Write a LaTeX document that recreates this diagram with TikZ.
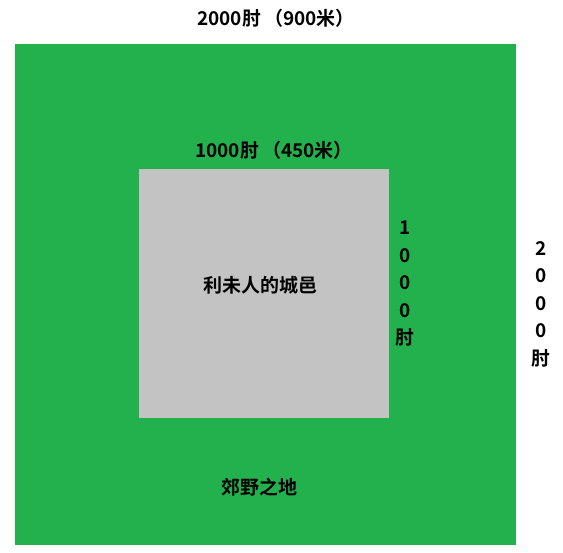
\documentclass[tikz,border=0pt]{standalone}
\usepackage{fontspec}
\newfontfamily\cjk{Noto Sans CJK SC}[BoldFont={Noto Sans CJK SC Bold}]
\definecolor{fieldgreen}{RGB}{34,177,76}
\definecolor{citygray}{RGB}{195,195,195}
\usetikzlibrary{positioning}

\begin{document}
\begin{tikzpicture}[x=1pt,y=-1pt,font=\cjk\bfseries\fontsize{19}{27.5}\selectfont,
 area/.style={inner sep=0pt,anchor=north west},
 lbl/.style={inner sep=0pt,align=center}]
 \useasboundingbox (0,0) rectangle (563,553);
 \node[area,fill=fieldgreen,minimum width=501pt,minimum height=501pt] (field) at(15,44){};
 \node[area,fill=citygray,minimum width=250pt,minimum height=249pt] (city) at(139,169){};
 \node[lbl] (outertop) at(276,18){2000肘\,（900米）};
 \node[lbl] (innertop) at(274,150){1000肘\,（450米）};
 \node[lbl] (innerside) at(405,284){1\\0\\0\\0\\肘};
 \node[lbl] (outerside) at(541,304){2\\0\\0\\0\\肘};
 \node[lbl] (cityname) at(260,285){利未人的城邑};
 \node[lbl] (pasture) at(259,487){郊野之地};
\end{tikzpicture}
\end{document}
